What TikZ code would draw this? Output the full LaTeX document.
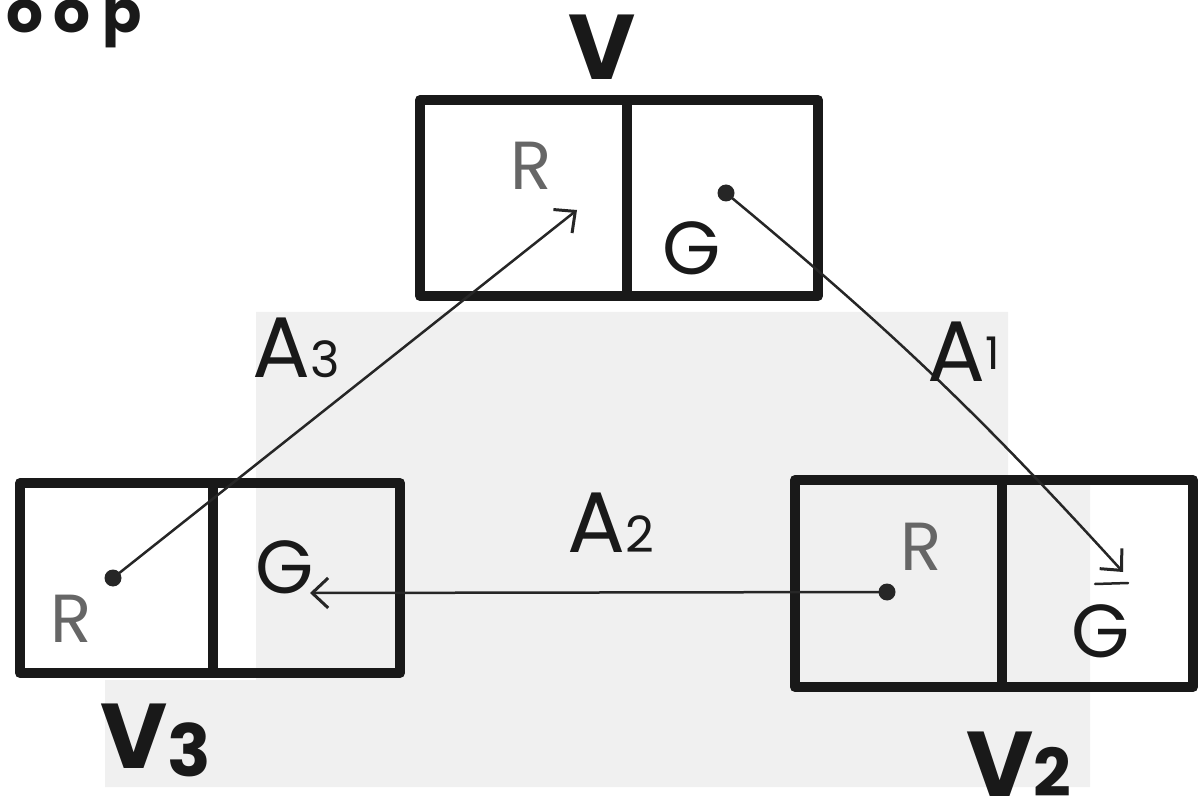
\documentclass[tikz,border=0pt]{standalone}
\usepackage{fontspec}
\setmainfont{Poppins}
\usetikzlibrary{arrows.meta}
\begin{document}
\begin{tikzpicture}[x=1pt,y=-1pt,
  cell/.style={draw=black!90, line width=10pt, line join=round, inner sep=0pt},
  conn/.style={draw=black!85, line width=2.5pt, line cap=round},
  tip/.style={-{Straight Barb[length=16pt,width=30pt,line width=3pt]}},
  dotnode/.style={circle, fill=black!85, inner sep=0pt, minimum size=17pt},
  big/.style={font=\fontsize{92}{100}\selectfont\bfseries, text=black!90, inner sep=0pt},
  glab/.style={font=\fontsize{75}{80}\selectfont, text=black!90, inner sep=0pt},
  rlab/.style={font=\fontsize{68}{70}\selectfont, text=black!60, inner sep=0pt},
  alab/.style={font=\fontsize{86}{90}\selectfont, text=black!90, inner sep=0pt}]
\useasboundingbox (0,0) rectangle (1203,810);
% paper shading
\fill[black!6] (256,312) -- (1008,312) -- (1008,475) -- (1090,475) -- (1090,787) -- (105,787) -- (105,680) -- (256,680) -- cycle;
% title fragment
\node[font=\fontsize{58}{60}\selectfont\bfseries, text=black!90, inner sep=0pt, anchor=base west] (title) at (6,33) {o\hspace{10pt}o\hspace{12pt}p};
% boxes
\node[cell, minimum width=207pt, minimum height=196pt] (VR) at (523.5,198) {};
\node[cell, minimum width=191pt, minimum height=196pt] (VG) at (722.5,198) {};
\node[cell, minimum width=193pt, minimum height=190pt] (V3R) at (116.5,578) {};
\node[cell, minimum width=187pt, minimum height=190pt] (V3G) at (306.5,578) {};
\node[cell, minimum width=207pt, minimum height=207pt] (V2R) at (898.5,583.5) {};
\node[cell, minimum width=191pt, minimum height=207pt] (V2G) at (1097.5,583.5) {};
% box labels
\node[big, anchor=base] (lV) at (602,80) {V};
\node[big, anchor=base west] (lV3) at (100,768) {V\raisebox{-8pt}{\fontsize{72}{80}\selectfont 3}};
\node[big, anchor=base west] (lV2) at (966,796) {V\fontsize{66}{70}\selectfont 2};
% cell letters
\node[rlab, anchor=base west] (rV) at (510,190) {R};
\node[glab, anchor=base west] (gV) at (662,275) {G};
\node[rlab, anchor=base west] (rV3) at (50,642) {R};
\node[glab, anchor=base west] (gV3) at (255,593) {G};
\node[rlab, anchor=base west] (rV2) at (900,570) {R};
\node[glab, anchor=base west] (gV2) at (1071,657) {G};
% dots
\node[dotnode] (d3) at (113,578) {};
\node[dotnode] (d1) at (726,193) {};
\node[dotnode] (d2) at (887,592) {};
% arrow ends
\coordinate (t3) at (577,210);
\coordinate (t1) at (1123,572);
\coordinate (t2) at (310,593);
\coordinate (b1) at (1095,584);
\coordinate (b2) at (1128,583);
% connectors
\draw[conn, tip] (d3.center) -- (t3);
\draw[conn, tip] (d1.center) to[bend left=4] (t1);
\draw[conn, tip] (d2.center) -- (t2);
\draw[conn] (b1) -- (b2);
% connector labels
\node[alab, anchor=base west] (a3) at (252,378) {A\fontsize{50}{55}\selectfont 3};
\node[alab, anchor=base west] (a1) at (927,382) {A\raisebox{12pt}{\fontsize{45}{50}\selectfont 1}};
\node[alab, anchor=base west] (a2) at (567,552) {A\fontsize{50}{55}\selectfont 2};
\end{tikzpicture}
\end{document}
